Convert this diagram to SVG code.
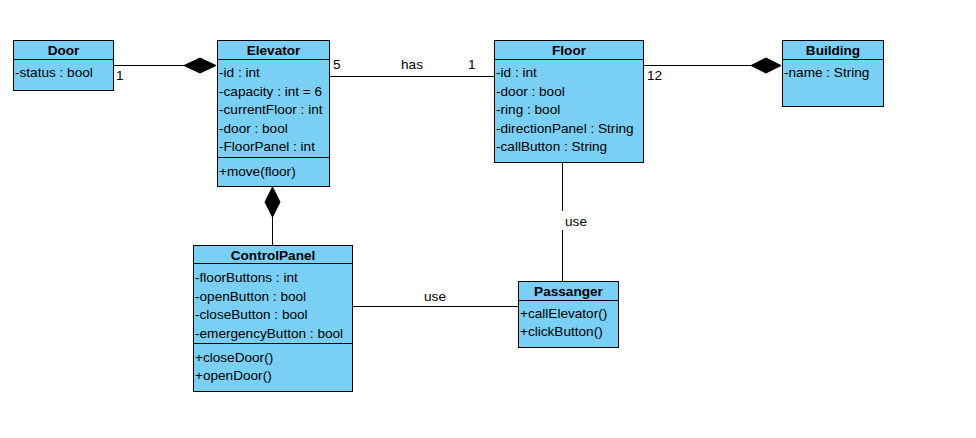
<svg xmlns="http://www.w3.org/2000/svg" width="976" height="438" viewBox="0 0 976 438">
<style>
.box{fill:#7ACFF5;stroke:#000;stroke-width:1}
.sep{stroke:#000;stroke-width:1}
text{font-family:"Liberation Sans",Arial,sans-serif;font-size:13.6px;fill:#000}
.t{font-weight:bold;text-anchor:middle}
.c{text-anchor:middle}
.ln{stroke:#000;stroke-width:1;fill:none}
.dia{fill:#000;stroke:#000}
</style>
<rect width="976" height="438" fill="#fff"/>
<g id="connectors">
<line class="ln" x1="113" y1="65.5" x2="185" y2="65.5"/>
<polygon class="dia" points="184,65.5 200,58 216,65.5 200,73"/>
<text x="116" y="80">1</text>
<line class="ln" x1="329" y1="76.5" x2="494" y2="76.5"/>
<text x="333" y="69">5</text>
<text class="c" x="412" y="69">has</text>
<text x="468" y="69">1</text>
<line class="ln" x1="643" y1="65.5" x2="752" y2="65.5"/>
<polygon class="dia" points="751,65.5 766,58 781,65.5 766,73"/>
<text x="647" y="80">12</text>
<line class="ln" x1="272.5" y1="217" x2="272.5" y2="245"/>
<polygon class="dia" points="272.5,187 280,202 272.5,217 265,202"/>
<line class="ln" x1="352" y1="306.5" x2="518" y2="306.5"/>
<text class="c" x="435" y="301">use</text>
<line class="ln" x1="562.5" y1="162" x2="562.5" y2="211"/>
<line class="ln" x1="562.5" y1="230" x2="562.5" y2="281"/>
<text class="c" x="576" y="226">use</text>
</g>
<g id="Door">
<rect class="box" x="13.5" y="40.5" width="100" height="50"/>
<line class="sep" x1="13.5" y1="59.5" x2="113.5" y2="59.5"/>
<text class="t" x="63.5" y="55">Door</text>
<text x="15" y="76.5">-status : bool</text>
</g>
<g id="Elevator">
<rect class="box" x="217.5" y="40.5" width="112" height="146"/>
<line class="sep" x1="217.5" y1="59.5" x2="329.5" y2="59.5"/>
<line class="sep" x1="217.5" y1="157.5" x2="329.5" y2="157.5"/>
<text class="t" x="273.5" y="55">Elevator</text>
<text x="219" y="76.5">-id : int</text>
<text x="219" y="95.5">-capacity : int = 6</text>
<text x="219" y="114">-currentFloor : int</text>
<text x="219" y="132.5">-door : bool</text>
<text x="219" y="151">-FloorPanel : int</text>
<text x="219" y="175.5">+move(floor)</text>
</g>
<g id="Floor">
<rect class="box" x="494.5" y="40.5" width="149" height="122"/>
<line class="sep" x1="494.5" y1="59.5" x2="643.5" y2="59.5"/>
<text class="t" x="569" y="55">Floor</text>
<text x="496" y="76.5">-id : int</text>
<text x="496" y="95.5">-door : bool</text>
<text x="496" y="114">-ring : bool</text>
<text x="496" y="132.5">-directionPanel : String</text>
<text x="496" y="151">-callButton : String</text>
</g>
<g id="Building">
<rect class="box" x="782.5" y="40.5" width="101" height="66"/>
<line class="sep" x1="782.5" y1="59.5" x2="883.5" y2="59.5"/>
<text class="t" x="833" y="55">Building</text>
<text x="784" y="76.5">-name : String</text>
</g>
<g id="ControlPanel">
<rect class="box" x="193.5" y="245.5" width="159" height="146"/>
<line class="sep" x1="193.5" y1="263.5" x2="352.5" y2="263.5"/>
<line class="sep" x1="193.5" y1="343.5" x2="352.5" y2="343.5"/>
<text class="t" x="273" y="260">ControlPanel</text>
<text x="195" y="281.5">-floorButtons : int</text>
<text x="195" y="300.5">-openButton : bool</text>
<text x="195" y="319">-closeButton : bool</text>
<text x="195" y="338">-emergencyButton : bool</text>
<text x="195" y="361.5">+closeDoor()</text>
<text x="195" y="380">+openDoor()</text>
</g>
<g id="Passanger">
<rect class="box" x="518.5" y="281.5" width="100" height="66"/>
<line class="sep" x1="518.5" y1="300.5" x2="618.5" y2="300.5"/>
<text class="t" x="568.5" y="296">Passanger</text>
<text x="520" y="317.5">+callElevator()</text>
<text x="520" y="335.5">+clickButton()</text>
</g>
</svg>
